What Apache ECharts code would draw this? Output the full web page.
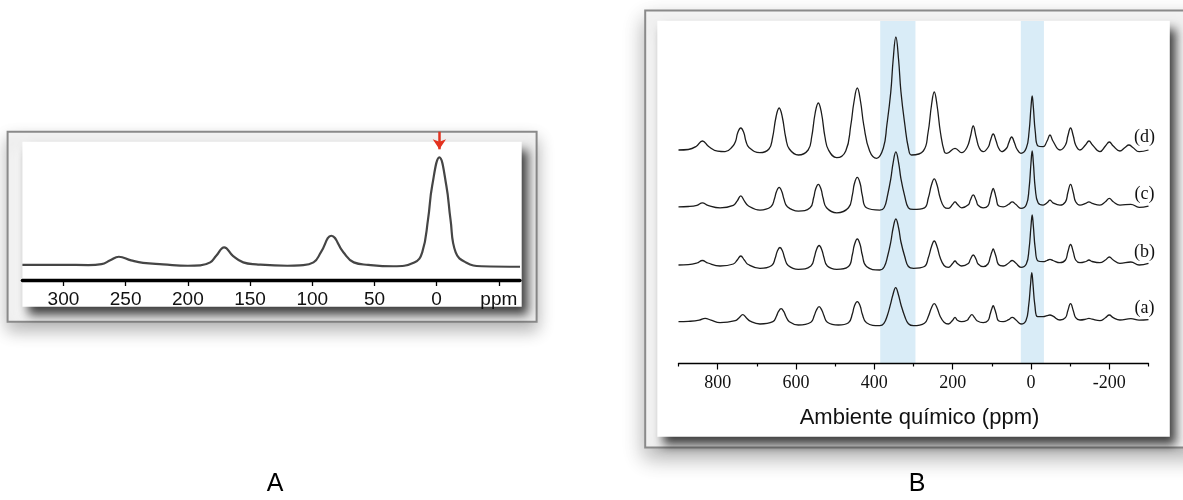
<!DOCTYPE html>
<html><head><meta charset="utf-8">
<script src="https://cdn.jsdelivr.net/npm/echarts@6/dist/echarts.min.js"></script>
<style>html,body{margin:0;padding:0;background:#fff}#c{width:1183px;height:500px}</style>
</head><body><div id="c"></div>
<script>
// ---------- Panel A : single spectrum [ppm, intensity] ----------
const spectrumA = [[333,2],[300,2],[280,1.7],[269.4,2.7],[262.4,6.6],[255.5,10.3],[245.7,6.6],[236,3.9],[220,2.5],[200,1],
  [190,1.5],[182,4.5],[177.2,11.3],[170.8,20],[163.8,11.3],[155.5,4.5],[145,2.5],[120,1],[110,1.5],[99,4.5],[93,15],
  [84.7,32],[75,15],[66.6,4.5],[55,2],[35,0.5],[18,4.4],[11.6,14.8],[6.9,49.2],[3.6,83.6],[-2.2,113],[-7.8,83.6],
  [-11.1,49.2],[-15.3,14.8],[-23.6,4.4],[-36,0.5],[-67,0]];
const tickValuesA = [300,250,200,150,100,50,0,-50];
const tickLabelsA = ['300','250','200','150','100','50','0','ppm'];

// ---------- Panel B : four stacked spectra [ppm, intensity] ----------
const traceNames = ['(a)','(b)','(c)','(d)'];
const traceA = [[900,0],[875,0.3],[847,1.5],[832,3.4],[817,1.5],[794,-1],
  [755,1],[745,4],[736,7],[727,4],[717,0.5],[692,-2.3],
  [659,0],[650,5.5],[645,10],[638,13],[631,10],[626,5.5],[617,0],[594,-3.3],
  [562,-0.5],[553,6.5],[548,11.5],[541,15],[534,11.5],[529,6.5],[520,-0.5],[492,-3.3],
  [466,-1],[456,8],[451,15.5],[443.5,20],[436,15.5],[431,8],[420,-1],[386,-4],
  [376,-2],[367,6],[359,17],[352.5,27],[345.5,34],[338.5,27],[332,17],[322,5],[313,-2],[300,-4],
  [272,-1.5],[262,5.5],[254,14],[247,18],[240,14],[232,5.5],[222,-0.5],[211,-2.3],
  [200,1.5],[194,4.4],[188,1.5],[177,0],
  [163,1.5],[158,4],[151,7],[144,4],[138,1],[122,-1],
  [110,1],[104,8],[100,13],[96.5,16],[93,13],[89,8],[83,1],[71,0],
  [57,2],[48,4.4],[39,2],[25.6,-2.3],
  [13,1],[6,16],[1,38],[-2,49],[-5,38],[-10,16],[-17,5],[-31,5],
  [-41,6],[-48.5,6.7],[-56,5.5],[-74,1.7],
  [-88,4],[-94,11],[-101,18],[-108,11],[-114,4],[-125,1.7],
  [-140,2.5],[-148,3.4],[-156,2.5],[-176,1],
  [-190,4],[-200,6.7],[-210,4],[-227,1.7],
  [-255,3],[-276,1.5],[-300,2]];
const traceB = [[900,0],[875,0.3],[853,2],[839,4.5],[825,2],[794,-1],
  [760,1],[750,5],[741,9],[732,5],[722,0.5],[692,-3.3],
  [662,-0.5],[653,7],[648,13.5],[641,17.5],[634,13.5],[629,7],[620,-0.5],[594,-4.3],
  [562,-1],[553,8],[548,15],[541,19.5],[534,15],[529,8],[520,-1],[496,-4.3],
  [466,-1.5],[456,10.5],[451,20],[443.5,26],[436,20],[431,10.5],[420,-1.5],[386,-5],
  [375,-2],[366,9],[358,23],[352,37],[345,46],[338,37],[332,23],[322,8],[313,-1.5],[300,-3.3],
  [272,-1.5],[262,7.5],[254,18.5],[247,24],[240,18.5],[232,7.5],[222,-0.5],[211,-2.3],
  [200,1.5],[194,4],[188,1.5],[177,-1],
  [160,1.5],[155,5.5],[147.5,10],[140,5.5],[135,1],[122,-1.7],
  [110,1],[104,8],[100,13],[96.5,16],[93,13],[89,8],[83,0.5],[71,-1],
  [57,2],[48,4.5],[39,2],[25.6,-2.3],
  [12,1],[5,16],[0,39],[-3,50],[-6,39],[-11,16],[-18,4],[-31,3.3],
  [-41,4.5],[-48.5,5.7],[-56,4.5],[-74,2.3],
  [-88,5],[-94,13],[-101,20.5],[-108,13],[-114,5],[-125,2.3],
  [-140,3.5],[-148,5],[-156,3.5],[-176,2.3],
  [-190,5],[-200,8],[-210,5],[-227,1.7],
  [-255,3],[-276,0],[-300,1.7]];
const traceC = [[900,0],[875,0.3],[853,1.5],[839,4],[825,1.5],[794,-1],
  [760,1.5],[750,6],[741,11],[732,6],[722,1],[692,-3.3],
  [664,0],[655,8],[650,15],[643,19.5],[636,15],[631,8],[622,0],[594,-4.3],
  [564,-1],[555,9],[550,17.5],[543,22.5],[536,17.5],[531,9],[522,-1],[496,-6],
  [466,-1],[456,12],[451,23],[443.5,29.5],[436,23],[431,12],[420,-1],[386,-3.3],
  [375,-1],[366,12],[358,28],[352,44],[345,55],[338,44],[332,28],[322,10],[313,-1],[300.6,-2.6],
  [272,-1],[262,9],[254,22],[247,28],[240,22],[232,9],[222,0],[211,-1.6],
  [200,2.5],[194,5],[188,2.5],[177,-1],
  [160,2],[155,6.5],[147.5,12],[140,6.5],[135,1.5],[122,-1],
  [110,1],[104,9],[100,15],[96.5,18.5],[93,15],[89,9],[83,1],[71,0],
  [57,2.5],[48,5],[39,2.5],[25.6,-1.6],
  [12,2],[5,18],[0,44],[-3,56],[-6,44],[-11,18],[-18,4],[-31,1.7],
  [-41,4],[-48.5,6.7],[-56,4],[-74,1.7],
  [-88,5],[-94,14],[-101,22.5],[-108,14],[-114,5],[-125,1.7],
  [-140,3.5],[-148,5],[-156,3.5],[-176,1.7],
  [-190,5],[-200,8.5],[-210,5],[-227,1.7],
  [-255,2.5],[-276,-0.5],[-300,0.7]];
const traceD = [[900,0],[875,0.5],[855,3.5],[839,9],[823,3.5],[800,-1.2],[781,-1.7],
  [762,3.5],[754,9],[749,17],[741,22],[733,17],[728,9],[720,2.5],[692,-2.7],
  [669,1],[660,12],[651,33],[643,42],[635,33],[626,12],[617,1],[594,-5],
  [569,0],[560,13],[551,37],[543,47],[535,37],[526,13],[517,0],[496,-7.7],
  [473,-1],[460,25],[452,48],[443.5,62],[435,48],[427,25],[412,-1],[394,-8.3],
  [377,2],[368,25],[358,58],[352,90],[345,113],[338,90],[332,58],[322,25],[313,2],[305,-5],
  [275,-1],[263,17],[254,45],[247,58],[240,45],[231,17],[221,-2],[215,-3.3],
  [194,1.7],[177,-2.7],
  [163,3],[155,13],[147.5,24],[140,13],[132,2],[122,-1.7],
  [109,3],[104,9],[96.5,16],[89,9],[84,3],[75,-1.7],
  [62,2],[57,7],[49.4,13],[42,7],[36,1],[25.6,-3.3],
  [12,2],[5,18],[0,43],[-3,54],[-6,43],[-11,18],[-18,4],[-31,3.3],
  [-41,9],[-48.5,15],[-56,9],[-74,0],
  [-88,5],[-94,14],[-101,22],[-108,14],[-114,5],[-125,0],
  [-139,5],[-148,9],[-157,5],[-176,-1.7],
  [-190,4],[-200,8],[-210,4],[-227,-1],
  [-240,2.5],[-250,5],[-260,2.5],[-276,-1.7],[-300,0]];
const tracesB = [traceA, traceB, traceC, traceD];
const bandsB = [[385,295],[26,-33]];
const tickLabelValuesB = [800,600,400,200,0,-200];
const tickMinorValuesB = [900,700,500,300,100,-100,-300];
const axisTitleB = 'Ambiente químico (ppm)';
const panelLetters = ['A','B'];

// ---------- build ----------
const chart = echarts.init(document.getElementById('c'));
const stackOffsets = [41.8, 98.5, 156.7, 213.5];   // vertical stacking of the B traces
const peakA = spectrumA.reduce((m, p) => p[1] > m[1] ? p : m, spectrumA[0]);

const seriesB = tracesB.map((tr, i) => ({
  type: 'line', name: traceNames[i], xAxisIndex: 1, yAxisIndex: 1,
  data: tr.map(p => [p[0], p[1] + stackOffsets[i]]),
  showSymbol: false, smooth: 0.45, silent: true,
  lineStyle: { color: '#1c1c1c', width: 1.3 },
  markArea: i === 0 ? {
    silent: true, itemStyle: { color: '#d9ecf7' },
    data: bandsB.map(b => [{ xAxis: b[0] }, { xAxis: b[1] }])
  } : undefined
}));

const option = {
  animation: false,
  backgroundColor: '#ffffff',
  grid: [
    { left: 22.4, right: 663, top: 128, bottom: 220 },
    { left: 678.5, right: 34.5, top: 21, bottom: 136.5 },
    { left: 678.5, right: 34.5, top: 21, bottom: 136.5 }
  ],
  xAxis: [
    { gridIndex: 0, type: 'value', min: -67, max: 333, inverse: true, position: 'bottom', z: 5,
      axisLine: { onZero: false, lineStyle: { color: '#000', width: 3.4 } },
      axisTick: { customValues: tickValuesA, length: 6, lineStyle: { color: '#000', width: 1.3 } },
      axisLabel: { customValues: tickValuesA, formatter: v => tickLabelsA[tickValuesA.indexOf(v)],
        margin: 10, fontFamily: 'Liberation Sans', fontSize: 19, color: '#111' },
      splitLine: { show: false } },
    { gridIndex: 1, type: 'value', min: -300, max: 900, inverse: true, position: 'bottom', z: 5,
      axisLine: { onZero: false, lineStyle: { color: '#000', width: 1.3 } },
      axisTick: { customValues: tickLabelValuesB, length: 6, lineStyle: { color: '#000', width: 1.2 } },
      axisLabel: { customValues: tickLabelValuesB, margin: 11, fontFamily: 'Liberation Serif', fontSize: 18, color: '#111' },
      splitLine: { show: false },
      name: axisTitleB, nameLocation: 'middle', nameGap: 43,
      nameTextStyle: { fontFamily: 'Liberation Sans', fontSize: 22, color: '#111', padding: [0, 0, 0, 12] } },
    { gridIndex: 2, type: 'value', min: -300, max: 900, inverse: true, position: 'bottom', z: 5,
      axisLine: { show: false, onZero: false },
      axisTick: { customValues: tickMinorValuesB, length: 3, lineStyle: { color: '#000', width: 1.2 } },
      axisLabel: { show: false }, splitLine: { show: false } }
  ],
  yAxis: [
    { gridIndex: 0, type: 'value', min: -13.7, max: 143.3, show: false },
    { gridIndex: 1, type: 'value', min: 0, max: 342.5, show: false },
    { gridIndex: 2, type: 'value', min: 0, max: 342.5, show: false }
  ],
  series: [
    { type: 'line', name: 'A', xAxisIndex: 0, yAxisIndex: 0, data: spectrumA,
      showSymbol: false, smooth: 0.45, silent: true,
      lineStyle: { color: '#454545', width: 2.2 },
      markLine: { silent: true, symbol: ['none', 'arrow'], symbolSize: 10,
        label: { show: false }, lineStyle: { color: '#e3321f', width: 2.5, type: 'solid' },
        emphasis: { disabled: true },
        data: [[{ coord: [peakA[0], peakA[1] + 26.5] }, { coord: [peakA[0], peakA[1] + 8.3] }]] } }
  ].concat(seriesB)
};
chart.setOption(option);

// frames, trace labels and panel letters
const gfx = [
  { id: 'fAo', type: 'rect', z: -10, shape: { x: 7.6, y: 131.7, width: 529, height: 190 },
    style: { fill: '#f7f7f7', stroke: '#8a8a8a', lineWidth: 2, shadowBlur: 16, shadowColor: 'rgba(0,0,0,0.28)', shadowOffsetY: 8 } },
  { id: 'fAi', type: 'rect', z: -9, shape: { x: 22.4, y: 141.7, width: 499.3, height: 165 },
    style: { fill: '#ffffff', shadowBlur: 10, shadowColor: 'rgba(0,0,0,0.75)', shadowOffsetX: 6, shadowOffsetY: 8 } },
  { id: 'fBo', type: 'rect', z: -10, shape: { x: 645.2, y: 10.4, width: 560, height: 437 },
    style: { fill: '#f7f7f7', stroke: '#8a8a8a', lineWidth: 2, shadowBlur: 20, shadowColor: 'rgba(0,0,0,0.3)', shadowOffsetY: 10 } },
  { id: 'fBi', type: 'rect', z: -9, shape: { x: 657.3, y: 20.8, width: 512.5, height: 416 },
    style: { fill: '#ffffff', shadowBlur: 10, shadowColor: 'rgba(0,0,0,0.75)', shadowOffsetX: 6, shadowOffsetY: 8 } },
  { id: 'lA', type: 'text', z: 10, x: 275, y: 484,
    style: { text: panelLetters[0], fontFamily: 'Liberation Sans', fontSize: 25, fill: '#000', align: 'center', verticalAlign: 'middle' } },
  { id: 'lB', type: 'text', z: 10, x: 917, y: 484,
    style: { text: panelLetters[1], fontFamily: 'Liberation Sans', fontSize: 25, fill: '#000', align: 'center', verticalAlign: 'middle' } }
];
tracesB.forEach((tr, i) => {
  const last = tr[tr.length - 1];
  const p = chart.convertToPixel({ seriesIndex: i + 1 }, [last[0], stackOffsets[i]]);
  gfx.push({ id: 't' + i, type: 'text', z: 10, x: p[0] - 4, y: p[1] - 13,
    style: { text: traceNames[i], fontFamily: 'Liberation Serif', fontSize: 18, fill: '#111', align: 'center', verticalAlign: 'middle' } });
});
chart.setOption({ graphic: gfx });
</script>
</body></html>
